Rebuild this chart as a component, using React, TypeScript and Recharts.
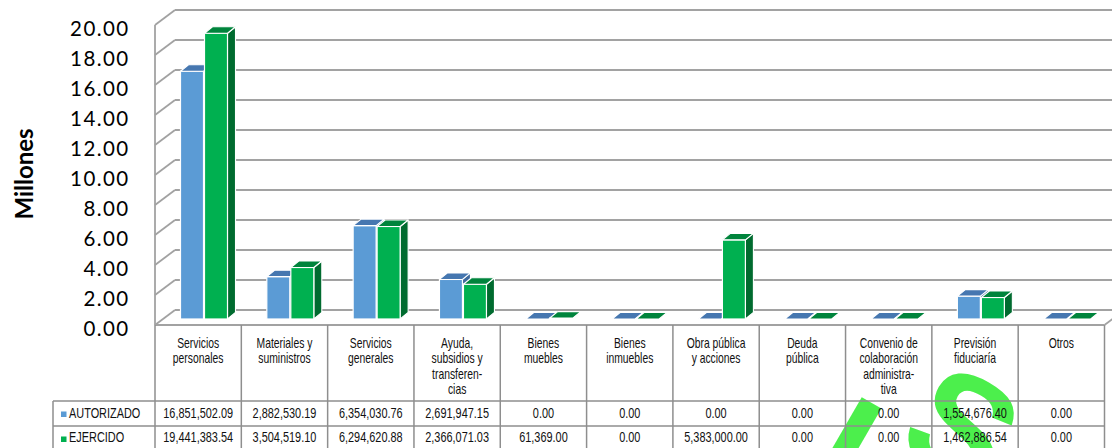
import React from 'react';
import { BarChart, Bar, XAxis, YAxis, CartesianGrid } from 'recharts';

const categories = [
  'Servicios\npersonales',
  'Materiales y\nsuministros',
  'Servicios\ngenerales',
  'Ayuda,\nsubsidios y\ntransferen-\ncias',
  'Bienes\nmuebles',
  'Bienes\ninmuebles',
  'Obra pública\ny acciones',
  'Deuda\npública',
  'Convenio de\ncolaboración\nadministra-\ntiva',
  'Previsión\nfiduciaría',
  'Otros',
];
const autorizado = [16851502.09, 2882530.19, 6354030.76, 2691947.15, 0, 0, 0, 0, 0, 1554676.4, 0];
const ejercido = [19441383.54, 3504519.1, 6294620.88, 2366071.03, 61369.0, 0, 5383000.0, 0, 0, 1462886.54, 0];
const seriesNames = ['AUTORIZADO', 'EJERCIDO'];
const yTicks = [0, 2, 4, 6, 8, 10, 12, 14, 16, 18, 20];
const yLabel = 'Millones';

const data = categories.map((c, i) => ({
  name: c,
  aut: autorizado[i] / 1e6,
  eje: ejercido[i] / 1e6,
}));

const W = 1112;
const H = 448;
const M = { top: 25, right: 7.5, bottom: 0, left: 0 };
const Y_AXIS_W = 155;
const X_AXIS_H = 123;
const colW = (W - M.left - Y_AXIS_W - M.right) / categories.length;

const BLUE = { front: '#5B9BD5', top: '#4677B0', side: '#3E6A9E' };
const GREEN = { front: '#00B050', top: '#00843C', side: '#006B2F' };
const GRID = '#a2a2a2';
const TABLE = '#8e8e8e';
const TXT_FONT = '"Liberation Sans", Arial, sans-serif';
const MARK = '#4CEF4C';

const fmt = (v: number) =>
  v.toLocaleString('en-US', { minimumFractionDigits: 2, maximumFractionDigits: 2 });

const NText = ({ x, y, size, sx, anchor = 'middle', children }: any) => (
  <g transform={`translate(${x},${y}) scale(${sx},1)`}>
    <text x={0} y={0} textAnchor={anchor} dominantBaseline="central" fontFamily={TXT_FONT} fontSize={size} fill="#111">
      {children}
    </text>
  </g>
);

const make3D = (c: { front: string; top: string; side: string }) => (props: any) => {
  const { x, y, width, height } = props;
  if (x == null || y == null) return <g />;
  const dx = 5.5;
  const lift = 6;
  const k = 0.98;
  const ddx = 8;
  const ddy = 6.5;
  const base = y + height - lift;
  const h = height * k;
  const left = x + dx;
  const right = left + width;
  const top = base - h;
  return (
    <g>
      <polygon
        points={`${right},${top} ${right + ddx},${top - ddy} ${right + ddx},${base - ddy} ${right},${base}`}
        fill={c.side}
        stroke="#fff"
        strokeWidth={1.1}
        strokeLinejoin="round"
      />
      {h > 0 && (
        <rect x={left} y={top} width={width} height={h} fill={c.front} stroke="#fff" strokeWidth={1.2} />
      )}
      <polygon
        points={`${left},${top} ${left + ddx},${top - ddy} ${right + ddx},${top - ddy} ${right},${top}`}
        fill={c.top}
        stroke="#fff"
        strokeWidth={1.1}
        strokeLinejoin="round"
      />
    </g>
  );
};

const GridLine = (props: any) => {
  const { x1, y1, x2 } = props;
  return (
    <g>
      <line x1={x1} y1={y1} x2={x1 + 20} y2={y1 - 15} stroke={GRID} strokeWidth={1.8} />
      <line x1={x1 + 20} y1={y1 - 15} x2={x2 + 20} y2={y1 - 15} stroke={GRID} strokeWidth={1.8} />
    </g>
  );
};

const YTick = (props: any) => {
  const { y, payload } = props;
  return (
    <text
      x={129.5}
      y={y + 3}
      textAnchor="end"
      dominantBaseline="central"
      fontFamily="Lato, sans-serif"
      fontSize={20.5}
      letterSpacing={1.4}
      fill="#000"
    >
      {Number(payload.value).toFixed(2)}
    </text>
  );
};

const XTick = (props: any) => {
  const { x, y, payload } = props;
  const i = payload.index;
  const lines = String(categories[i]).split('\n');
  const l = x - colW / 2;
  const r = x + colW / 2;
  const last = categories.length - 1;
  const r1 = y + 76;
  const r2 = y + 101;
  const bottom = y + 130;
  return (
    <g>
      {lines.map((t, k) => (
        <NText key={k} x={x} y={y + 18 + k * 15.6} size={14} sx={0.74}>
          {t}
        </NText>
      ))}
      <NText x={x} y={y + 89} size={14} sx={0.78}>
        {fmt(autorizado[i])}
      </NText>
      <NText x={x} y={y + 113} size={14} sx={0.78}>
        {fmt(ejercido[i])}
      </NText>
      <line x1={r} y1={y} x2={r} y2={bottom} stroke={TABLE} strokeWidth={1.5} />
      {i === 0 && <line x1={l} y1={y} x2={l} y2={bottom} stroke={TABLE} strokeWidth={1.5} />}
      <line x1={l} y1={r1} x2={r} y2={r1} stroke={TABLE} strokeWidth={1.5} />
      <line x1={l} y1={r2} x2={r} y2={r2} stroke={TABLE} strokeWidth={1.5} />
      {i === 0 && (
        <g>
          <line x1={53} y1={r1} x2={l} y2={r1} stroke={TABLE} strokeWidth={1.5} />
          <line x1={53} y1={r2} x2={l} y2={r2} stroke={TABLE} strokeWidth={1.5} />
          <line x1={53} y1={r1} x2={53} y2={bottom} stroke={TABLE} strokeWidth={1.5} />
          <rect x={61} y={r1 + 10.5} width={5.5} height={5.5} fill={BLUE.front} />
          <NText x={69} y={y + 89} size={14} sx={0.78} anchor="start">
            {seriesNames[0]}
          </NText>
          <rect x={61} y={r2 + 10.5} width={5.5} height={5.5} fill={GREEN.front} />
          <NText x={69} y={y + 113} size={14} sx={0.78} anchor="start">
            {seriesNames[1]}
          </NText>
        </g>
      )}
      {i === last && <line x1={r} y1={y} x2={r + 20} y2={y - 15} stroke={GRID} strokeWidth={1.8} />}
    </g>
  );
};

const YLabel = () => (
  <text
    x={0}
    y={0}
    transform="translate(23,174) rotate(-90)"
    textAnchor="middle"
    dominantBaseline="central"
    fontFamily="Lato, sans-serif"
    fontWeight={700}
    fontSize={24}
    fill="#000"
  >
    {yLabel}
  </text>
);

export default function App() {
  return (
    <div style={{ position: 'absolute', left: 0, top: 0, width: W, height: H, background: '#fff', overflow: 'hidden' }}>
      <svg width={W} height={H} style={{ position: 'absolute', left: 0, top: 0 }}>
        <g fontFamily='"Liberation Sans", Arial, sans-serif' fontWeight={700} fill={MARK}>
          <text x={0} y={0} fontSize={165} transform="translate(792,495) rotate(30)">l</text>
          <text x={0} y={0} fontSize={150} transform="translate(893,448) rotate(30)">S</text>
        </g>
      </svg>
      <div style={{ position: 'absolute', left: 0, top: 0 }}>
        <BarChart width={W} height={H} data={data} margin={M} barGap={1}>
          <CartesianGrid horizontal={GridLine} vertical={false} />
          <XAxis
            dataKey="name"
            height={X_AXIS_H}
            interval={0}
            tickLine={false}
            tickSize={0}
            tickMargin={0}
            axisLine={{ stroke: GRID, strokeWidth: 1.8 }}
            tick={XTick}
          />
          <YAxis
            width={Y_AXIS_W}
            domain={[0, 20]}
            ticks={yTicks}
            tickLine={false}
            axisLine={{ stroke: GRID, strokeWidth: 1.8 }}
            tick={YTick}
            label={<YLabel />}
          />
          <Bar dataKey="aut" name={seriesNames[0]} fill={BLUE.front} barSize={23} isAnimationActive={false} shape={make3D(BLUE)} />
          <Bar dataKey="eje" name={seriesNames[1]} fill={GREEN.front} barSize={23} isAnimationActive={false} shape={make3D(GREEN)} />
        </BarChart>
      </div>
    </div>
  );
}
